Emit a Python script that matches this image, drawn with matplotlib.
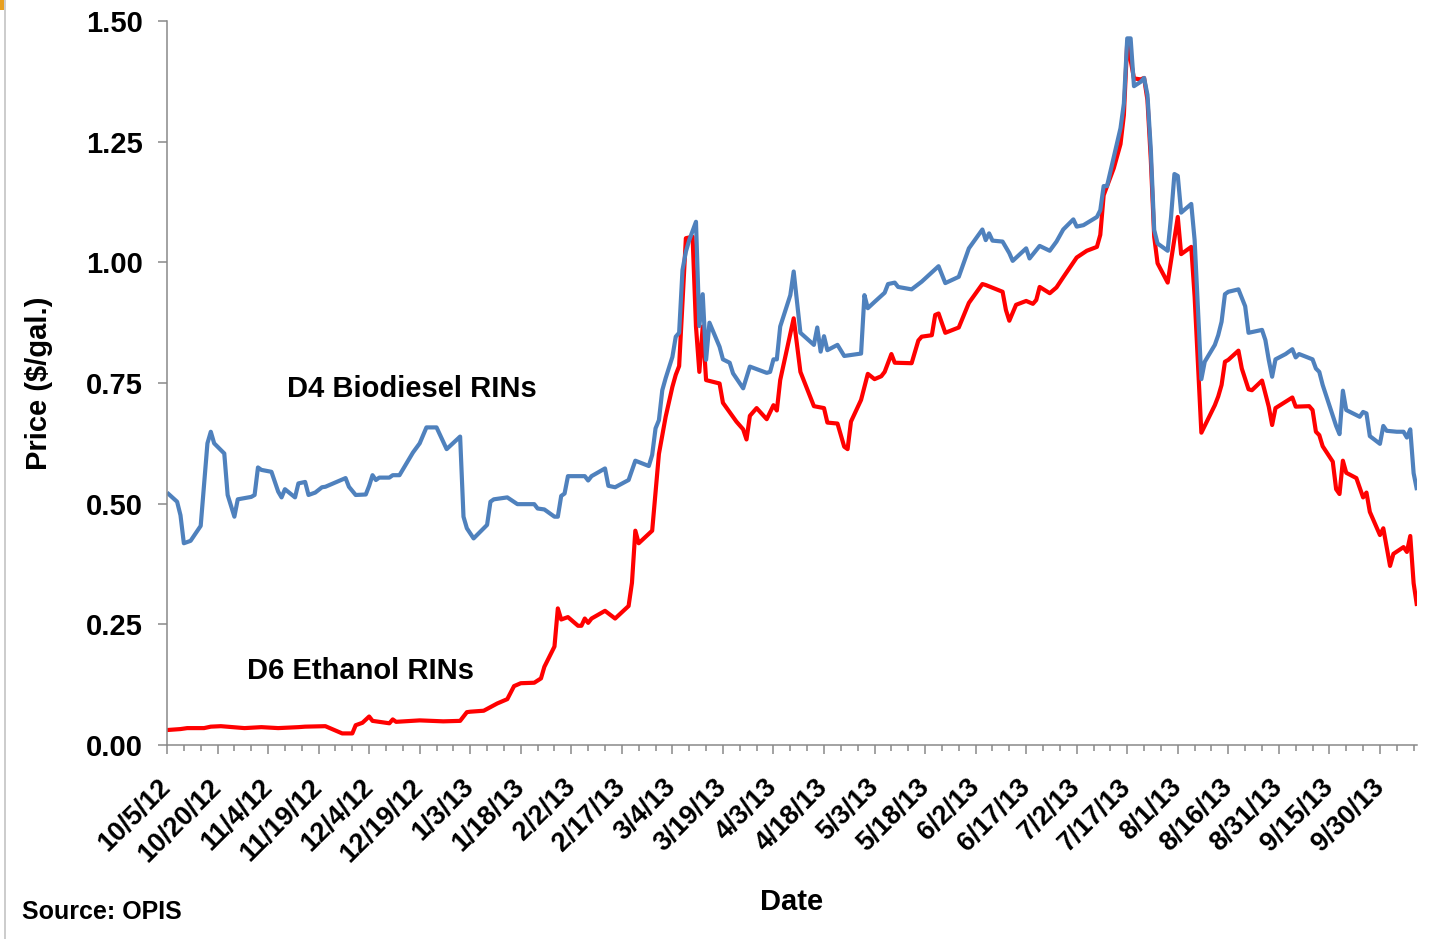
import matplotlib
matplotlib.use("Agg")
import matplotlib.pyplot as plt
import matplotlib.dates as mdates
from matplotlib.lines import Line2D
from matplotlib.patches import Rectangle
import pandas as pd

# D4 biodiesel RIN prices ($/gal.)
d4_dates = [
    "2012-10-05", "2012-10-08", "2012-10-09", "2012-10-10", "2012-10-12", "2012-10-15",
    "2012-10-17", "2012-10-18", "2012-10-19", "2012-10-22", "2012-10-23", "2012-10-25",
    "2012-10-26", "2012-10-30", "2012-10-31", "2012-11-01", "2012-11-02", "2012-11-05",
    "2012-11-07", "2012-11-08", "2012-11-09", "2012-11-12", "2012-11-13", "2012-11-15",
    "2012-11-16", "2012-11-18", "2012-11-20", "2012-11-21", "2012-11-27", "2012-11-28",
    "2012-11-30", "2012-12-03", "2012-12-04", "2012-12-05", "2012-12-06", "2012-12-07",
    "2012-12-10", "2012-12-11", "2012-12-13", "2012-12-17", "2012-12-19", "2012-12-21",
    "2012-12-24", "2012-12-27", "2012-12-31", "2013-01-01", "2013-01-02", "2013-01-04",
    "2013-01-08", "2013-01-09", "2013-01-10", "2013-01-14", "2013-01-17", "2013-01-22",
    "2013-01-23", "2013-01-25", "2013-01-28", "2013-01-29", "2013-01-30", "2013-01-31",
    "2013-02-01", "2013-02-06", "2013-02-07", "2013-02-08", "2013-02-12", "2013-02-13",
    "2013-02-15", "2013-02-19", "2013-02-21", "2013-02-25", "2013-02-26", "2013-02-27",
    "2013-02-28", "2013-03-01", "2013-03-02", "2013-03-04", "2013-03-05", "2013-03-06",
    "2013-03-07", "2013-03-08", "2013-03-09", "2013-03-11", "2013-03-12", "2013-03-13",
    "2013-03-14", "2013-03-15", "2013-03-18", "2013-03-19", "2013-03-21", "2013-03-22",
    "2013-03-25", "2013-03-27", "2013-04-01", "2013-04-02", "2013-04-03", "2013-04-04",
    "2013-04-05", "2013-04-08", "2013-04-09", "2013-04-11", "2013-04-15", "2013-04-16",
    "2013-04-17", "2013-04-18", "2013-04-19", "2013-04-22", "2013-04-24", "2013-04-29",
    "2013-04-30", "2013-05-01", "2013-05-03", "2013-05-06", "2013-05-07", "2013-05-09",
    "2013-05-10", "2013-05-14", "2013-05-17", "2013-05-22", "2013-05-24", "2013-05-28",
    "2013-05-31", "2013-06-04", "2013-06-05", "2013-06-06", "2013-06-07", "2013-06-10",
    "2013-06-12", "2013-06-13", "2013-06-17", "2013-06-18", "2013-06-21", "2013-06-24",
    "2013-06-26", "2013-06-28", "2013-07-01", "2013-07-02", "2013-07-04", "2013-07-08",
    "2013-07-09", "2013-07-10", "2013-07-11", "2013-07-15", "2013-07-16", "2013-07-17",
    "2013-07-18", "2013-07-19", "2013-07-21", "2013-07-22", "2013-07-23", "2013-07-24",
    "2013-07-25", "2013-07-26", "2013-07-29", "2013-07-30", "2013-07-31", "2013-08-01",
    "2013-08-02", "2013-08-05", "2013-08-06", "2013-08-08", "2013-08-09", "2013-08-12",
    "2013-08-13", "2013-08-14", "2013-08-15", "2013-08-16", "2013-08-19", "2013-08-21",
    "2013-08-22", "2013-08-26", "2013-08-27", "2013-08-28", "2013-08-29", "2013-08-30",
    "2013-09-02", "2013-09-04", "2013-09-05", "2013-09-06", "2013-09-10", "2013-09-11",
    "2013-09-12", "2013-09-13", "2013-09-17", "2013-09-18", "2013-09-19", "2013-09-20",
    "2013-09-24", "2013-09-25", "2013-09-26", "2013-09-27", "2013-09-30", "2013-10-01",
    "2013-10-02", "2013-10-05", "2013-10-07", "2013-10-08", "2013-10-09", "2013-10-10",
    "2013-10-11",
]
d4_prices = [
    0.523, 0.504, 0.476, 0.418, 0.423, 0.454,
    0.625, 0.649, 0.625, 0.604, 0.518, 0.473,
    0.509, 0.514, 0.518, 0.575, 0.570, 0.566,
    0.525, 0.513, 0.530, 0.513, 0.542, 0.545,
    0.518, 0.523, 0.534, 0.535, 0.553, 0.535,
    0.518, 0.519, 0.537, 0.559, 0.549, 0.554,
    0.554, 0.559, 0.559, 0.606, 0.625, 0.658,
    0.658, 0.613, 0.639, 0.473, 0.449, 0.428,
    0.456, 0.504, 0.509, 0.513, 0.499, 0.499,
    0.490, 0.488, 0.473, 0.473, 0.516, 0.521,
    0.557, 0.557, 0.548, 0.557, 0.573, 0.537,
    0.534, 0.549, 0.589, 0.578, 0.601, 0.656,
    0.673, 0.735, 0.760, 0.804, 0.846, 0.854,
    0.984, 1.022, 1.046, 1.084, 0.868, 0.934,
    0.798, 0.875, 0.825, 0.799, 0.792, 0.770,
    0.739, 0.784, 0.771, 0.773, 0.799, 0.799,
    0.867, 0.932, 0.981, 0.854, 0.829, 0.865,
    0.815, 0.847, 0.818, 0.829, 0.806, 0.811,
    0.932, 0.905, 0.918, 0.937, 0.955, 0.958,
    0.949, 0.944, 0.960, 0.992, 0.957, 0.970,
    1.029, 1.068, 1.046, 1.060, 1.045, 1.043,
    1.019, 1.003, 1.029, 1.008, 1.034, 1.024,
    1.043, 1.068, 1.089, 1.074, 1.077, 1.094,
    1.108, 1.158, 1.158, 1.278, 1.329, 1.464,
    1.464, 1.365, 1.374, 1.382, 1.347, 1.233,
    1.067, 1.039, 1.024, 1.094, 1.183, 1.179,
    1.103, 1.121, 1.046, 0.758, 0.794, 0.829,
    0.849, 0.877, 0.934, 0.939, 0.944, 0.909,
    0.854, 0.860, 0.839, 0.798, 0.763, 0.799,
    0.810, 0.820, 0.803, 0.810, 0.799, 0.780,
    0.773, 0.746, 0.661, 0.644, 0.734, 0.694,
    0.680, 0.690, 0.687, 0.640, 0.624, 0.661,
    0.651, 0.649, 0.649, 0.637, 0.654, 0.563,
    0.528,
]

# D6 ethanol RIN prices ($/gal.)
d6_dates = [
    "2012-10-05", "2012-10-09", "2012-10-11", "2012-10-16", "2012-10-18", "2012-10-21",
    "2012-10-28", "2012-11-02", "2012-11-07", "2012-11-13", "2012-11-15", "2012-11-21",
    "2012-11-26", "2012-11-29", "2012-11-30", "2012-12-02", "2012-12-04", "2012-12-05",
    "2012-12-10", "2012-12-11", "2012-12-12", "2012-12-19", "2012-12-26", "2012-12-31",
    "2013-01-02", "2013-01-03", "2013-01-07", "2013-01-11", "2013-01-14", "2013-01-16",
    "2013-01-18", "2013-01-22", "2013-01-24", "2013-01-25", "2013-01-28", "2013-01-29",
    "2013-01-30", "2013-02-01", "2013-02-04", "2013-02-05", "2013-02-06", "2013-02-07",
    "2013-02-08", "2013-02-12", "2013-02-15", "2013-02-19", "2013-02-20", "2013-02-21",
    "2013-02-22", "2013-02-26", "2013-02-27", "2013-02-28", "2013-03-02", "2013-03-04",
    "2013-03-05", "2013-03-06", "2013-03-08", "2013-03-10", "2013-03-11", "2013-03-12",
    "2013-03-13", "2013-03-14", "2013-03-18", "2013-03-19", "2013-03-23", "2013-03-25",
    "2013-03-26", "2013-03-27", "2013-03-29", "2013-04-01", "2013-04-03", "2013-04-04",
    "2013-04-05", "2013-04-09", "2013-04-11", "2013-04-15", "2013-04-18", "2013-04-19",
    "2013-04-22", "2013-04-24", "2013-04-25", "2013-04-26", "2013-04-29", "2013-05-01",
    "2013-05-03", "2013-05-05", "2013-05-06", "2013-05-08", "2013-05-09", "2013-05-14",
    "2013-05-16", "2013-05-17", "2013-05-20", "2013-05-21", "2013-05-22", "2013-05-24",
    "2013-05-28", "2013-05-31", "2013-06-04", "2013-06-05", "2013-06-10", "2013-06-11",
    "2013-06-12", "2013-06-14", "2013-06-17", "2013-06-19", "2013-06-20", "2013-06-21",
    "2013-06-24", "2013-06-26", "2013-06-28", "2013-07-02", "2013-07-05", "2013-07-08",
    "2013-07-09", "2013-07-10", "2013-07-13", "2013-07-15", "2013-07-16", "2013-07-17",
    "2013-07-19", "2013-07-21", "2013-07-22", "2013-07-23", "2013-07-24", "2013-07-25",
    "2013-07-26", "2013-07-29", "2013-08-01", "2013-08-02", "2013-08-05", "2013-08-06",
    "2013-08-08", "2013-08-12", "2013-08-13", "2013-08-14", "2013-08-15", "2013-08-16",
    "2013-08-19", "2013-08-20", "2013-08-22", "2013-08-23", "2013-08-26", "2013-08-28",
    "2013-08-29", "2013-08-30", "2013-09-04", "2013-09-05", "2013-09-09", "2013-09-10",
    "2013-09-11", "2013-09-12", "2013-09-13", "2013-09-16", "2013-09-17", "2013-09-18",
    "2013-09-19", "2013-09-20", "2013-09-23", "2013-09-25", "2013-09-26", "2013-09-27",
    "2013-09-30", "2013-10-01", "2013-10-03", "2013-10-04", "2013-10-07", "2013-10-08",
    "2013-10-09", "2013-10-10", "2013-10-11",
]
d6_prices = [
    0.031, 0.033, 0.035, 0.035, 0.038, 0.039,
    0.035, 0.037, 0.035, 0.037, 0.038, 0.039,
    0.024, 0.024, 0.041, 0.046, 0.059, 0.050,
    0.045, 0.053, 0.048, 0.051, 0.049, 0.050,
    0.068, 0.069, 0.071, 0.086, 0.095, 0.122,
    0.128, 0.129, 0.138, 0.162, 0.204, 0.283,
    0.260, 0.265, 0.247, 0.247, 0.262, 0.253,
    0.262, 0.278, 0.262, 0.288, 0.336, 0.444,
    0.418, 0.444, 0.523, 0.603, 0.680, 0.742,
    0.767, 0.785, 1.050, 1.053, 0.867, 0.773,
    0.867, 0.756, 0.749, 0.709, 0.670, 0.654,
    0.633, 0.682, 0.698, 0.675, 0.704, 0.693,
    0.756, 0.884, 0.773, 0.702, 0.698, 0.668,
    0.666, 0.618, 0.613, 0.670, 0.715, 0.769,
    0.758, 0.764, 0.773, 0.810, 0.792, 0.791,
    0.838, 0.846, 0.849, 0.891, 0.894, 0.854,
    0.865, 0.916, 0.955, 0.953, 0.939, 0.901,
    0.879, 0.912, 0.920, 0.914, 0.922, 0.949,
    0.936, 0.948, 0.969, 1.010, 1.024, 1.032,
    1.057, 1.139, 1.195, 1.245, 1.305, 1.457,
    1.381, 1.379, 1.382, 1.336, 1.212, 1.053,
    0.998, 0.958, 1.094, 1.017, 1.032, 0.929,
    0.647, 0.704, 0.722, 0.746, 0.794, 0.798,
    0.817, 0.780, 0.737, 0.735, 0.755, 0.701,
    0.663, 0.698, 0.720, 0.701, 0.702, 0.694,
    0.649, 0.642, 0.619, 0.587, 0.530, 0.520,
    0.589, 0.564, 0.553, 0.513, 0.523, 0.483,
    0.435, 0.449, 0.371, 0.396, 0.410, 0.400,
    0.433, 0.335, 0.288,
]

y_ticks = [0.0, 0.25, 0.50, 0.75, 1.00, 1.25, 1.50]
axis_start, axis_end = "2012-10-05", "2013-10-11"

plt.rcParams["font.family"] = ["Liberation Sans", "DejaVu Sans"]
plt.rcParams["font.weight"] = "bold"

W, H = 1449, 939
fig = plt.figure(figsize=(W / 100, H / 100), dpi=100)
ax = fig.add_axes([167 / W, 1 - 745 / H, 1250 / W, 724 / H])

ax.plot(pd.to_datetime(d6_dates), d6_prices, color="#FF0000", lw=3.0,
        solid_joinstyle="round", solid_capstyle="butt")
ax.plot(pd.to_datetime(d4_dates), d4_prices, color="#4F81BD", lw=3.0,
        solid_joinstyle="round", solid_capstyle="butt")

# axes frame
axis_grey = "#898989"
for side in ("top", "right"):
    ax.spines[side].set_visible(False)
for side in ("left", "bottom"):
    ax.spines[side].set_color(axis_grey)
    ax.spines[side].set_linewidth(1.1)

ax.set_ylim(0, 1.5)
ax.set_yticks(y_ticks)
ax.set_yticklabels([f"{v:.2f}" for v in y_ticks])
ax.tick_params(axis="y", direction="out", length=6.5, width=1.1, color=axis_grey,
               labelsize=21, pad=11)

x0, x1 = pd.Timestamp(axis_start), pd.Timestamp(axis_end)
ax.set_xlim(x0, x1)
major = pd.date_range(x0, x1, freq="15D")
minor = pd.date_range(x0, x1, freq="5D")
ax.set_xticks(mdates.date2num(major))
ax.set_xticks(mdates.date2num(minor), minor=True)
ax.set_xticklabels([f"{d.month}/{d.day}/{d:%y}" for d in major],
                   rotation=45, ha="right", va="center", rotation_mode="anchor")
ax.tick_params(axis="x", which="major", direction="out", length=6.5, width=1.1,
               color=axis_grey, labelsize=19.5, pad=21)
ax.tick_params(axis="x", which="minor", direction="out", length=4.5, width=1.1,
               color=axis_grey)

ax.set_ylabel("Price ($/gal.)", fontsize=21, fontweight="bold")
ax.yaxis.set_label_coords(-0.0912, 0.5)
ax.set_xlabel("Date", fontsize=21, fontweight="bold", va="top")
ax.xaxis.set_label_coords(0.5, -0.197)

# series labels
ax.text(0.1956, 0.4807, "D4 Biodiesel RINs", transform=ax.transAxes,
        ha="center", va="baseline", fontsize=21, fontweight="bold")
ax.text(0.1548, 0.0912, "D6 Ethanol RINs", transform=ax.transAxes,
        ha="center", va="baseline", fontsize=21, fontweight="bold")

fig.text(22 / W, 1 - 919 / H, "Source: OPIS", ha="left", va="baseline",
         fontsize=18, fontweight="bold")

# slide edge marks
fig.add_artist(Line2D([4.8 / W, 4.8 / W], [0, 1], transform=fig.transFigure,
                      color="#c4c4c4", lw=1.2))
fig.add_artist(Rectangle((0, 1 - 10 / H), 3.5 / W, 10 / H, transform=fig.transFigure,
                         color="#E8A020", lw=0))

fig.savefig("out.png", dpi=100)
